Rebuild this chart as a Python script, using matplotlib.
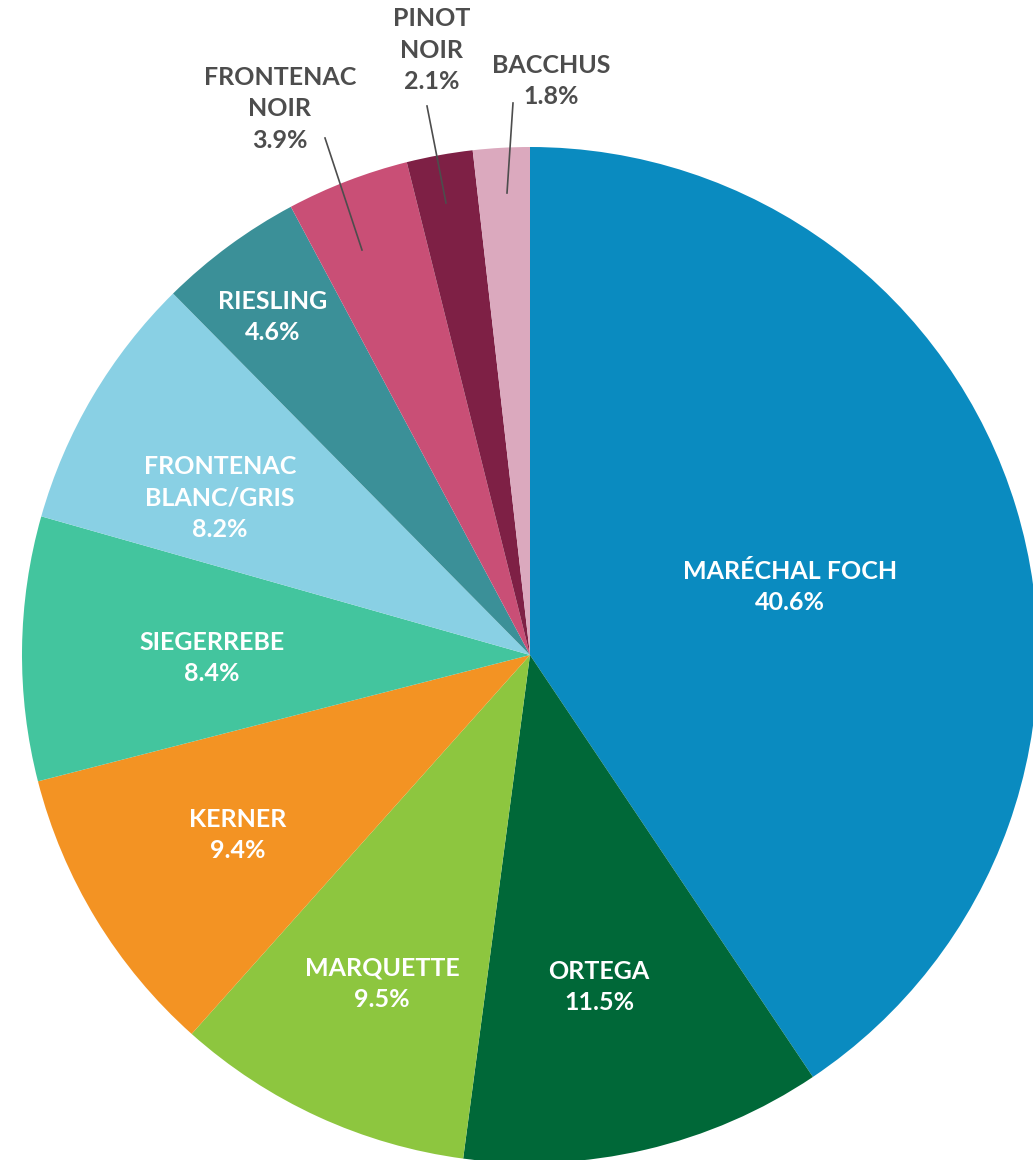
import matplotlib
matplotlib.use('Agg')
from matplotlib import pyplot as plt

plt.rcParams['font.family'] = ['Lato', 'DejaVu Sans']

varieties = ['MARÉCHAL FOCH', 'ORTEGA', 'MARQUETTE', 'KERNER', 'SIEGERREBE',
             'FRONTENAC\nBLANC/GRIS', 'RIESLING', 'FRONTENAC\nNOIR', 'PINOT\nNOIR', 'BACCHUS']
shares = [40.6, 11.5, 9.5, 9.4, 8.4, 8.2, 4.6, 3.9, 2.1, 1.8]
colors = ['#0A8BC0', '#006838', '#8DC63F', '#F39323', '#43C59E',
          '#89D0E4', '#3B9098', '#C94F76', '#7E2045', '#DBA9BE']

# label layout in pixels (x, y from top), and leader lines for the outside ones
W, H = 1033, 1160
label_pos = [(790, 587), (599, 987), (382, 984), (238, 835), (212, 658),
             (220, 498), (273, 317), (280, 109), (432, 50), (551, 81)]
outside = [False] * 7 + [True] * 3
leaders = {7: ((325, 138), (362, 250)), 8: ((427, 106), (446, 203)),
           9: ((513, 103), (507, 193))}

fig = plt.figure(figsize=(W / 100, H / 100), dpi=100)
ax = fig.add_axes([0, 0, 1, 1])

ax.pie(shares, colors=colors, startangle=90, counterclock=False,
       center=(530, H - 655), radius=508, frame=True,
       wedgeprops=dict(linewidth=0))
ax.set_xlim(0, W)
ax.set_ylim(0, H)
ax.axis('off')

for i, (name, val) in enumerate(zip(varieties, shares)):
    x, y = label_pos[i]
    col = '#4D4D4D' if outside[i] else 'white'
    ax.text(x, H - y, f'{name}\n{val}%', ha='center', va='center', color=col,
            fontsize=18, fontweight='bold', linespacing=1.45)
    if i in leaders:
        (x0, y0), (x1, y1) = leaders[i]
        ax.plot([x0, x1], [H - y0, H - y1], color='#4D4D4D', lw=1.2)

fig.savefig('out.png', dpi=100)
